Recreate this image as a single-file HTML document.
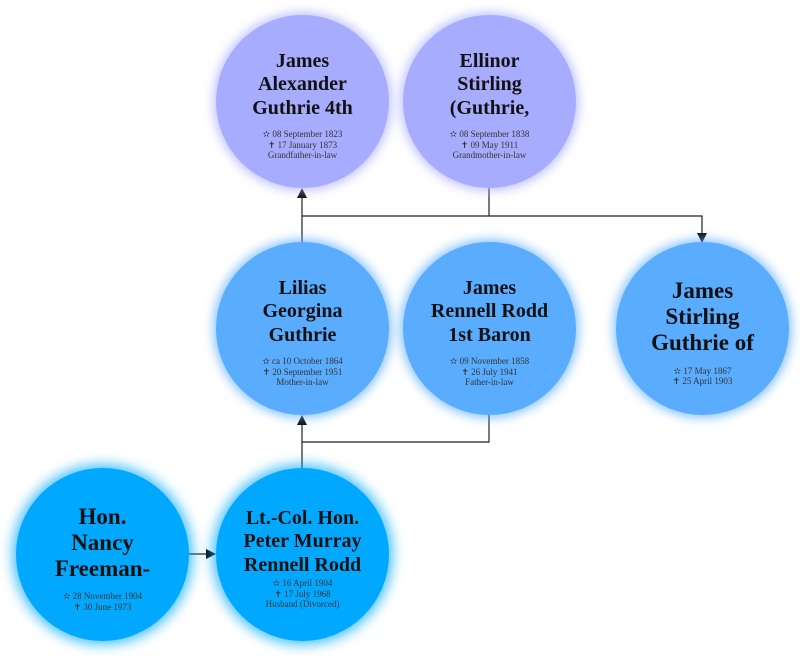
<!DOCTYPE html>
<html><head><meta charset="utf-8"><style>
body{margin:0;width:800px;height:670px;background:#fff;position:relative;overflow:hidden;font-family:"Liberation Serif",serif;}
.c{position:absolute;width:173px;height:173px;border-radius:50%;display:flex;flex-direction:column;align-items:center;justify-content:center;text-align:center;box-sizing:border-box;padding-top:7px;}
.r1{background:#a8acff;box-shadow:0 0 10px 3px rgba(168,172,255,.7);}
.r2{background:#5aacff;box-shadow:0 0 10px 3px rgba(90,172,255,.7);}
.r3{background:#00a9ff;box-shadow:0 0 12px 4px rgba(0,169,255,.7);}
.n{font-weight:bold;font-size:20px;line-height:23.5px;color:#111;}
.b{font-size:23px;line-height:26px;}
.d{font-size:9px;line-height:10.5px;color:#333;margin-top:9px;}
.d2{margin-top:1px;}
.d3{margin-top:10px;}
svg{position:absolute;left:0;top:0;}
</style></head><body>
<svg width="800" height="670">
<g stroke="#222" stroke-width="1.2" fill="none">
<path d="M302 243V196M489 188V216M302 216H702V235M489 415V442H302M302 468V423M189 554H208"/>
</g>
<g fill="#111">
<path d="M302 188l-5 10h10z"/>
<path d="M702 243l-5-10h10z"/>
<path d="M302 415l-5 10h10z"/>
<path d="M216 554l-10-5v10z"/>
</g>
</svg>
<div class="c r1" style="left:216px;top:15px"><div class="n">James<br>Alexander<br>Guthrie 4th</div><div class="d">✫ 08 September 1823<br>✝ 17 January 1873<br>Grandfather-in-law</div></div>
<div class="c r1" style="left:403px;top:15px"><div class="n">Ellinor<br>Stirling<br>(Guthrie,</div><div class="d">✫ 08 September 1838<br>✝ 09 May 1911<br>Grandmother-in-law</div></div>
<div class="c r2" style="left:216px;top:242px"><div class="n">Lilias<br>Georgina<br>Guthrie</div><div class="d">✫ ca 10 October 1864<br>✝ 20 September 1951<br>Mother-in-law</div></div>
<div class="c r2" style="left:403px;top:242px"><div class="n">James<br>Rennell Rodd<br>1st Baron</div><div class="d">✫ 09 November 1858<br>✝ 26 July 1941<br>Father-in-law</div></div>
<div class="c r2" style="left:616px;top:242px"><div class="n b">James<br>Stirling<br>Guthrie of</div><div class="d d3">✫ 17 May 1867<br>✝ 25 April 1903</div></div>
<div class="c r3" style="left:16px;top:468px"><div class="n b">Hon.<br>Nancy<br>Freeman-</div><div class="d">✫ 28 November 1904<br>✝ 30 June 1973</div></div>
<div class="c r3" style="left:216px;top:468px"><div class="n">Lt.-Col. Hon.<br>Peter Murray<br>Rennell Rodd</div><div class="d d2">✫ 16 April 1904<br>✝ 17 July 1968<br>Husband (Divorced)</div></div>
</body></html>
